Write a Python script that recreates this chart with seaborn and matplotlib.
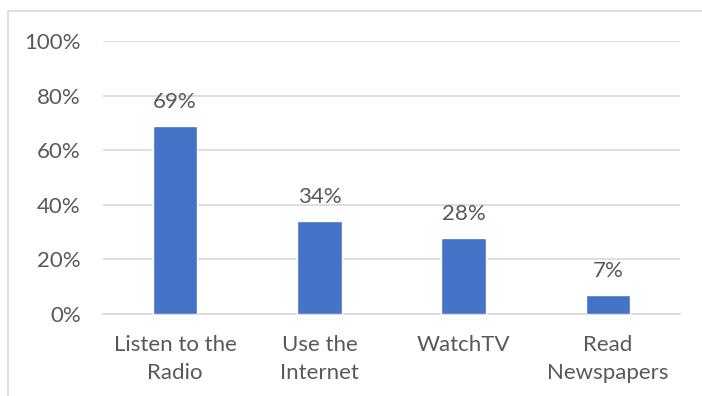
import matplotlib
matplotlib.use("Agg")
import matplotlib.pyplot as plt
import seaborn as sns
import pandas as pd
from matplotlib.patches import Rectangle
from matplotlib.ticker import FuncFormatter

categories = ["Listen to the\nRadio", "Use the\nInternet", "WatchTV", "Read\nNewspapers"]
values = [69, 34, 28, 7]
y_ticks = [0, 20, 40, 60, 80, 100]

df = pd.DataFrame({"activity": categories, "share": values})

sns.set_theme(style="white")
plt.rcParams["font.family"] = ["Lato", "DejaVu Sans"]

text_color = "#595959"
grid_color = "#D9D9D9"
bar_color = "#4472C4"
fs = 16

W, H = 702, 396
fig = plt.figure(figsize=(W / 100, H / 100), dpi=100)
ax = fig.add_axes([103 / W, 1 - 314 / H, (680 - 103) / W, (314 - 41) / H])

sns.barplot(data=df, x="activity", y="share", color=bar_color, width=0.31,
            saturation=1, ax=ax, zorder=3)

ax.set_ylim(0, 100)
ax.set_yticks(y_ticks)
ax.yaxis.set_major_formatter(FuncFormatter(lambda v, _: f"{v:.0f}%"))
ax.grid(axis="y", color=grid_color, linewidth=1.2, zorder=0)
ax.grid(axis="x", visible=False)
for side in ["top", "right", "left"]:
    ax.spines[side].set_visible(False)
ax.spines["bottom"].set_color(grid_color)
ax.spines["bottom"].set_linewidth(1.2)
ax.set_xlabel("")
ax.set_ylabel("")
ax.set_xticks(range(len(categories)))
ax.set_xticklabels(categories, linespacing=1.5)
ax.tick_params(axis="both", length=0, labelsize=fs, colors=text_color)
ax.tick_params(axis="x", pad=15)
ax.tick_params(axis="y", pad=16)

for patch, v in zip(ax.patches, values):
    ax.annotate(f"{v}%", (patch.get_x() + patch.get_width() / 2, patch.get_height()),
                xytext=(0, 13), textcoords="offset points", ha="center", va="baseline",
                fontsize=fs, color=text_color)

# chart-area frame
fig.patches.append(Rectangle((8 / W, -0.1), 1.2, 1 - 11 / H + 0.1, transform=fig.transFigure,
                             fill=False, edgecolor=grid_color, linewidth=1.2, zorder=0))

fig.savefig("out.png", dpi=100, facecolor="white")
